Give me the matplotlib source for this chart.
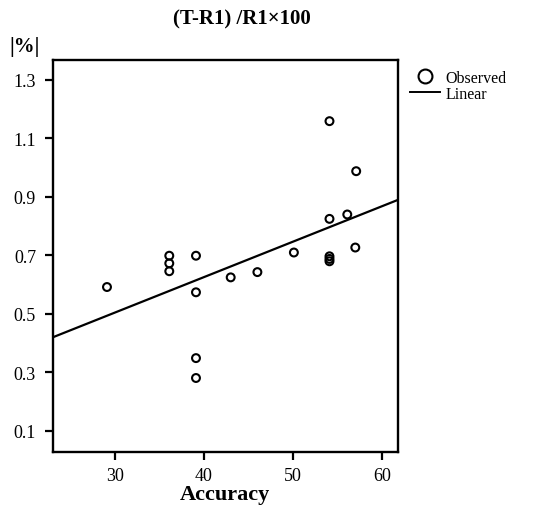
import matplotlib
matplotlib.use('Agg')
import matplotlib.pyplot as plt
from matplotlib.lines import Line2D

# Observed points (Accuracy vs (T-R1)/R1x100 in %)
accuracy = [29.1, 36.1, 36.1, 36.1, 39.1, 39.1, 39.1, 39.1, 43.0, 46.0,
            50.1, 54.1, 54.1, 54.1, 54.1, 54.1, 56.1, 57.1, 57.0]
change_pct = [0.592, 0.699, 0.673, 0.646, 0.699, 0.574, 0.349, 0.281, 0.625, 0.643,
              0.710, 1.159, 0.825, 0.697, 0.688, 0.680, 0.840, 0.988, 0.727]

# Linear fit line
linear_x = [23.0, 61.8]
linear_y = [0.420, 0.890]

x_ticks = [30, 40, 50, 60]
x_tick_labels = ['30', '40', '50', '60']
y_ticks = [0.1, 0.3, 0.5, 0.7, 0.9, 1.1, 1.3]
y_tick_labels = ['0.1', '0.3', '0.5', '0.7', '0.9', '1.1', '1.3']

title_text = '(T-R1) /R1\u00d7100'
unit_text = '|%|'
x_label = 'Accuracy'
legend_labels = ['Observed', 'Linear']

plt.rcParams['font.family'] = ['Liberation Serif', 'DejaVu Serif']

fig = plt.figure(figsize=(5.41, 5.06), dpi=100)
ax = fig.add_axes([0.0974, 0.1053, 0.6383, 0.7741])

ax.scatter(accuracy, change_pct, s=32, facecolors='none', edgecolors='black',
           linewidths=1.5, zorder=3)
ax.plot(linear_x, linear_y, color='black', lw=1.6, zorder=2)

ax.set_xlim(23.0, 61.8)
ax.set_ylim(0.029, 1.368)
ax.set_xticks(x_ticks)
ax.set_xticklabels(x_tick_labels)
ax.set_yticks(y_ticks)
ax.set_yticklabels(y_tick_labels)

for s in ax.spines.values():
    s.set_linewidth(1.7)
ax.tick_params(direction='out', length=6, width=1.6, labelsize=13, color='black')
ax.tick_params(axis='y', pad=6)
ax.tick_params(axis='x', pad=5)

ax.set_xlabel(x_label, fontsize=16, fontweight='bold', labelpad=0)

fig.text(242 / 541, 1 - 19 / 506, title_text, ha='center', va='center',
         fontsize=15, fontweight='bold')
fig.text(25 / 541, 1 - 47 / 506, unit_text, ha='center', va='center',
         fontsize=15, fontweight='bold')

handles = [Line2D([], [], marker='o', linestyle='none', markersize=10,
                  markerfacecolor='none', markeredgecolor='black', markeredgewidth=1.5),
           Line2D([], [], color='black', lw=1.4)]
fig.legend(handles, legend_labels, loc='upper left',
           bbox_to_anchor=(410 / 541, 1 - 71 / 506), frameon=False,
           fontsize=11.5, handlelength=1.9, handletextpad=0.3,
           labelspacing=0.0, borderpad=0, borderaxespad=0)

fig.savefig('out.png', dpi=100)
